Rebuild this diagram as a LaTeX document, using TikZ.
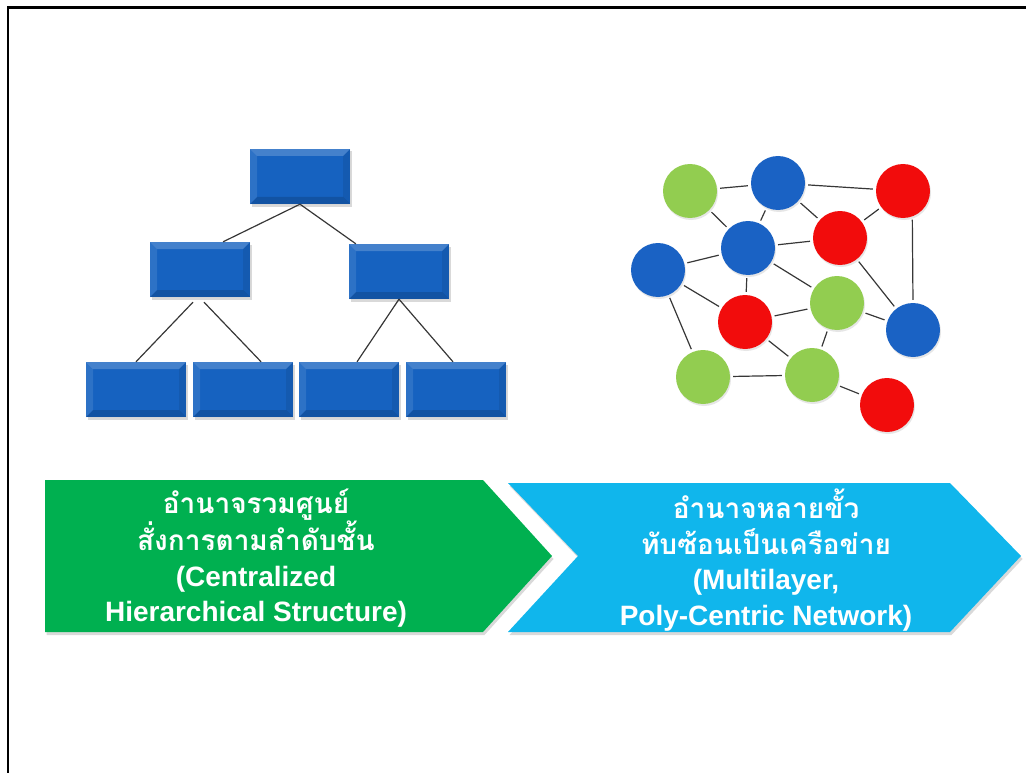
\documentclass[tikz,border=0pt]{standalone}
\usepackage{fontspec}
\setmainfont{Liberation Sans}
\newfontfamily\thaifont[Script=Thai]{Loma}
\usetikzlibrary{calc,shadows}

\definecolor{boxblue}{RGB}{22,98,192}
\definecolor{netblue}{RGB}{26,98,196}
\definecolor{netred}{RGB}{242,12,12}
\definecolor{netgreen}{RGB}{146,205,80}
\definecolor{arrgreen}{RGB}{0,176,80}
\definecolor{arrblue}{RGB}{16,182,236}
\definecolor{edgegray}{RGB}{55,55,55}

\begin{document}
\begin{tikzpicture}[x=1pt, y=-1pt,
    treebox/.style={rectangle, fill=boxblue, minimum width=100pt, minimum height=55pt, inner sep=0pt,
        drop shadow={opacity=0.3, shadow xshift=1.5pt, shadow yshift=-2.5pt},
        path picture={
            \fill[white, opacity=0.2] (path picture bounding box.north west) -- (path picture bounding box.north east)
                -- ([xshift=-7pt,yshift=-7pt]path picture bounding box.north east) -- ([xshift=7pt,yshift=-7pt]path picture bounding box.north west) -- cycle;
            \fill[white, opacity=0.1] (path picture bounding box.north west) -- (path picture bounding box.south west)
                -- ([xshift=7pt,yshift=7pt]path picture bounding box.south west) -- ([xshift=7pt,yshift=-7pt]path picture bounding box.north west) -- cycle;
            \fill[black, opacity=0.15] (path picture bounding box.south west) -- (path picture bounding box.south east)
                -- ([xshift=-7pt,yshift=7pt]path picture bounding box.south east) -- ([xshift=7pt,yshift=7pt]path picture bounding box.south west) -- cycle;
            \fill[black, opacity=0.08] (path picture bounding box.north east) -- (path picture bounding box.south east)
                -- ([xshift=-7pt,yshift=7pt]path picture bounding box.south east) -- ([xshift=-7pt,yshift=-7pt]path picture bounding box.north east) -- cycle;
        }},
    ball/.style={circle, fill=#1, minimum size=54pt, inner sep=0pt,
        drop shadow={opacity=0.2, shadow xshift=1pt, shadow yshift=-2pt}},
    link/.style={draw=edgegray, line width=1.2pt},
    netlink/.style={link, shorten <=3pt, shorten >=3pt},
    banner/.style={drop shadow={opacity=0.3, shadow xshift=1.5pt, shadow yshift=-3pt}},
    bannertext/.style={text=white, align=center, font=\bfseries\fontsize{28}{35.5}\selectfont}]

    \useasboundingbox (0,0) rectangle (1026,773);

    % Moldura
    \draw[line width=2.5pt] (8,773) -- (8,7.5) -- (1026,7.5);

    % Hierarquia (arvore)
    \node[treebox] (top) at (300,176.5) {};
    \node[treebox] (ml) at (200,269.5) {};
    \node[treebox] (mr) at (399,271.5) {};
    \node[treebox] (b1) at (136,389.5) {};
    \node[treebox] (b2) at (243,389.5) {};
    \node[treebox] (b3) at (349,389.5) {};
    \node[treebox] (b4) at (456,389.5) {};

    \draw[link] (top.south) -- ($(ml.north west)!0.73!(ml.north east)$);
    \draw[link] (top.south) -- ($(mr.north west)!0.07!(mr.north east)$);
    \draw[link] ([yshift=-5pt]$(ml.south west)!0.43!(ml.south east)$) -- (b1.north);
    \draw[link] ([yshift=-5pt]$(ml.south west)!0.54!(ml.south east)$) -- ($(b2.north west)!0.68!(b2.north east)$);
    \draw[link] (mr.south) -- ($(b3.north west)!0.58!(b3.north east)$);
    \draw[link] (mr.south) -- ($(b4.north west)!0.47!(b4.north east)$);

    % Rede policentrica
    \node[ball=netgreen] (g1) at (690,191) {};
    \node[ball=netblue]  (n1) at (778,183) {};
    \node[ball=netred]   (r1) at (903,191) {};
    \node[ball=netblue]  (n2) at (748,248) {};
    \node[ball=netred]   (r2) at (840,238) {};
    \node[ball=netblue]  (n3) at (658,270) {};
    \node[ball=netred]   (r3) at (745,322) {};
    \node[ball=netgreen] (g2) at (837,303) {};
    \node[ball=netblue]  (n4) at (913,330) {};
    \node[ball=netgreen] (g3) at (703,377) {};
    \node[ball=netgreen] (g4) at (812,375) {};
    \node[ball=netred]   (r4) at (887,405) {};

    \foreach \a/\b in {g1/n1, n1/r1, n1/r2, g1/n2, n1/n2, r2/r1, n2/r2, n2/n3, n2/g2, n2/r3,
                       n3/r3, n3/g3, r3/g2, r3/g4, r2/n4, g2/n4, g4/g2, g3/g4, g4/r4}
        \draw[netlink] (\a) -- (\b);
    \draw[netlink] (r1.-70) -- (n4.north);

    % Setas
    \fill[arrgreen, banner] (45,480) -- (483,480) -- (552,556) -- (483,632) -- (45,632) -- cycle;
    \fill[arrblue, banner] (508,483) -- (950,483) -- (1021,556) -- (950,632) -- (508,632) -- (578,556) -- cycle;

    % Rotulos
    \node[bannertext] (central) at (256,558)
        {{\thaifont อำนาจรวมศูนย์}\\{\thaifont สั่งการตามลำดับชั้น}\\(Centralized\\Hierarchical Structure)};
    \node[bannertext] (poly) at (766,560)
        {{\thaifont อำนาจหลายขั้ว}\\{\thaifont ทับซ้อนเป็นเครือข่าย}\\(Multilayer,\\Poly-Centric Network)};

\end{tikzpicture}
\end{document}
